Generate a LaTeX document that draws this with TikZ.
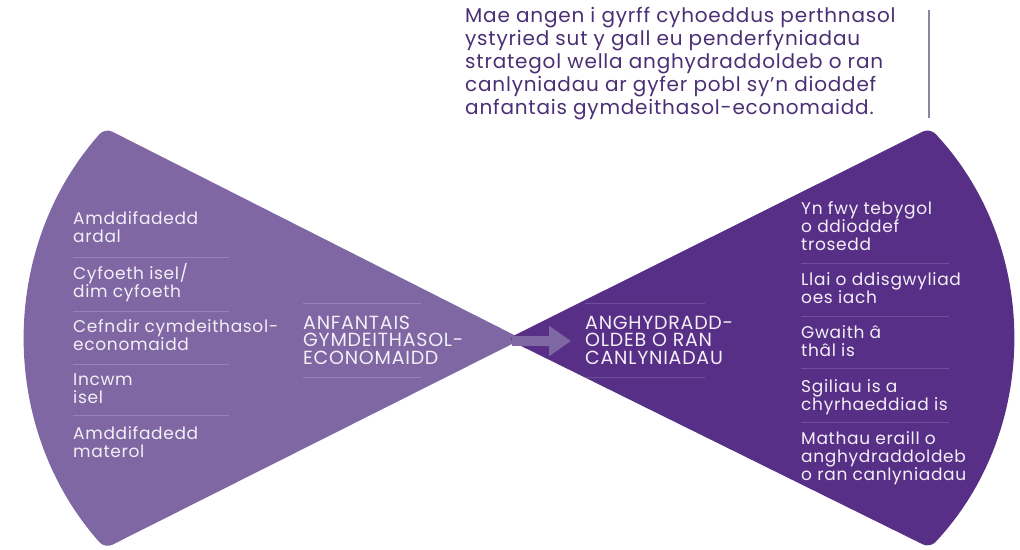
\documentclass[tikz,border=0pt]{standalone}
\usepackage{fontspec}
\setmainfont{Poppins}
\newfontfamily\spacedfont{Poppins}[LetterSpace=4]
\usetikzlibrary{arrows.meta}
\definecolor{lightpurple}{HTML}{7F67A3}
\definecolor{darkpurple}{HTML}{582F86}
\definecolor{headtext}{HTML}{4B2F74}
\definecolor{paletext}{HTML}{F3EFF7}
\definecolor{lightsep}{HTML}{9683B6}
\definecolor{darksep}{HTML}{70509A}
\definecolor{vlinecol}{HTML}{8C84A3}
\tikzset{
  headnote/.style={anchor=west, inner sep=0pt, align=left, text=headtext, font=\spacedfont\fontsize{20}{23}\selectfont},
  itemtext/.style={anchor=west, inner sep=0pt, align=left, text=paletext, font=\spacedfont\fontsize{17}{18}\selectfont},
  labeltext/.style={anchor=west, inner sep=0pt, align=left, text=paletext, font=\spacedfont\fontsize{19}{17.5}\selectfont},
  lsep/.style={draw=lightsep, line width=1pt},
  dsep/.style={draw=darksep, line width=1pt},
}
\begin{document}
\begin{tikzpicture}[x=1pt,y=-1pt]
\useasboundingbox (0,0) rectangle (1020,549);
% fans
\fill[lightpurple, rounded corners=8pt] (522,339) -- (105,128) arc[start angle=221.7, end angle=138.3, radius=316] -- cycle;
\fill[darkpurple, rounded corners=8pt] (507,339) -- (930,128) arc[start angle=-43.15, end angle=43.15, radius=307] -- cycle;
% arrow
\coordinate (arrowstart) at (512,341);
\coordinate (arrowend) at (571,341);
\draw[lightpurple, line width=10pt, -{Triangle[length=22pt,width=29pt]}] (arrowstart) -- (arrowend);
% header note
\node[headnote] (note) at (465,64) {Mae angen i gyrff cyhoeddus perthnasol\\ystyried sut y gall eu penderfyniadau\\strategol wella anghydraddoldeb o ran\\canlyniadau ar gyfer pobl sy’n dioddef\\anfantais gymdeithasol-economaidd.};
\draw[vlinecol, line width=1.5pt] (929,10) -- (929,118);
% left items
\node[itemtext] (l1) at (73,227) {Amddifadedd\\ardal};
\node[itemtext] (l2) at (73,282.5) {Cyfoeth isel/\\dim cyfoeth};
\node[itemtext] (l3) at (73,335.5) {Cefndir cymdeithasol-\\economaidd};
\node[itemtext] (l4) at (73,389) {Incwm\\isel};
\node[itemtext] (l5) at (73,442.5) {Amddifadedd\\materol};
\foreach \yy in {257,311,364,415} \draw[lsep] (73,\yy) -- (229,\yy);
% left label
\node[labeltext] (leftlabel) at (303,340) {ANFANTAIS\\GYMDEITHASOL-\\ECONOMAIDD};
\draw[lsep] (303,303) -- (421,303);
\draw[lsep] (303,377) -- (421,377);
% right label
\node[labeltext] (rightlabel) at (585,340) {ANGHYDRADD-\\OLDEB O RAN\\CANLYNIADAU};
\draw[dsep] (585,303) -- (705,303);
\draw[dsep] (585,377) -- (705,377);
% right items
\node[itemtext] (r1) at (801,226) {Yn fwy tebygol\\o ddioddef\\trosedd};
\node[itemtext] (r2) at (801,288.5) {Llai o ddisgwyliad\\oes iach};
\node[itemtext] (r3) at (801,341.5) {Gwaith â\\thâl is};
\node[itemtext] (r4) at (801,397) {Sgiliau is a\\chyrhaeddiad is};
\node[itemtext] (r5) at (801,458) {Mathau eraill o\\anghydraddoldeb\\o ran canlyniadau};
\foreach \yy in {263,316,368,422} \draw[dsep] (801,\yy) -- (949,\yy);
\end{tikzpicture}
\end{document}
